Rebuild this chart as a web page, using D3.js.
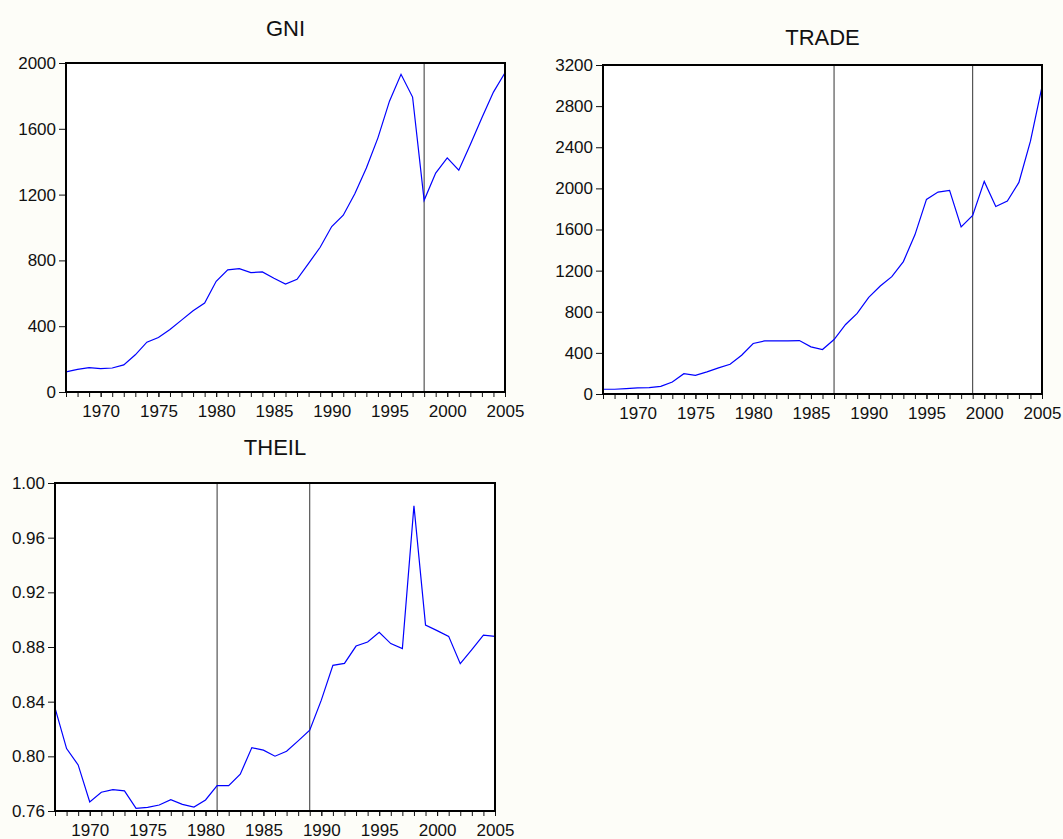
<!DOCTYPE html>
<html>
<head>
<meta charset="utf-8">
<script src="https://cdn.jsdelivr.net/npm/d3@7"></script>
<style>
  html, body { margin: 0; padding: 0; background: #fdfdf8; }
  svg { display: block; }
  text { font-family: "Liberation Sans", Arial, sans-serif; fill: #111; }
</style>
</head>
<body>
<svg id="chart" width="1063" height="839"></svg>
<script>
// ---- Data ----
const years = d3.range(1967, 2006);

const gni = [122, 138, 148, 142, 146, 165, 226, 303, 331, 380,
             437, 494, 541, 673, 742, 750, 726, 730, 691, 656,
             685, 782, 880, 1006, 1075, 1205, 1362, 1545, 1768, 1931,
             1793, 1165, 1331, 1423, 1348, 1504, 1667, 1823, 1941];

const trade = [46, 46, 52, 59, 62, 75, 117, 198, 182, 215,
               254, 289, 377, 491, 517, 517, 517, 520, 459, 433,
               530, 676, 784, 940, 1050, 1141, 1288, 1548, 1893, 1964,
               1980, 1626, 1737, 2068, 1824, 1876, 2058, 2459, 2989];

const theil = [0.8355, 0.8057, 0.7937, 0.7666, 0.7737, 0.7756, 0.7747, 0.7620, 0.7627, 0.7644,
               0.7683, 0.7649, 0.7629, 0.7681, 0.7786, 0.7786, 0.7869, 0.8064, 0.8045, 0.8001,
               0.8037, 0.8113, 0.8191, 0.8411, 0.8666, 0.8680, 0.8807, 0.8837, 0.8908, 0.8825,
               0.8788, 0.9834, 0.8961, 0.8920, 0.8878, 0.8678, 0.8780, 0.8886, 0.8878];

const gniBreaks = [1998];
const tradeBreaks = [1987, 1999];
const theilBreaks = [1981, 1989];

const gniTicks = [0, 400, 800, 1200, 1600, 2000];
const tradeTicks = [0, 400, 800, 1200, 1600, 2000, 2400, 2800, 3200];
const theilTicks = [0.76, 0.80, 0.84, 0.88, 0.92, 0.96, 1.00];
const xLabelYears = [1970, 1975, 1980, 1985, 1990, 1995, 2000, 2005];

// ---- Layout ----
const panels = [
  { title: "GNI",   values: gni,   breaks: gniBreaks,   ticks: gniTicks,   fmt: d3.format("d"),
    left: 66, right: 505, top: 63, bottom: 392, titleY: 36, yDomain: [0, 2000] },
  { title: "TRADE", values: trade, breaks: tradeBreaks, ticks: tradeTicks, fmt: d3.format("d"),
    left: 603, right: 1042, top: 65, bottom: 394, titleY: 45, yDomain: [0, 3200] },
  { title: "THEIL", values: theil, breaks: theilBreaks, ticks: theilTicks, fmt: d3.format(".2f"),
    left: 55, right: 495, top: 483, bottom: 811, titleY: 455, yDomain: [0.76, 1.00] }
];

const svg = d3.select("#chart");

panels.forEach(p => {
  const x = d3.scaleLinear().domain([1967, 2005]).range([p.left, p.right]);
  const y = d3.scaleLinear().domain(p.yDomain).range([p.bottom, p.top]);
  const g = svg.append("g");

  // plot background
  g.append("rect")
    .attr("x", p.left).attr("y", p.top)
    .attr("width", p.right - p.left).attr("height", p.bottom - p.top)
    .attr("fill", "#ffffff");

  // title
  g.append("text")
    .attr("x", (p.left + p.right) / 2).attr("y", p.titleY)
    .attr("text-anchor", "middle")
    .style("font-size", "22px")
    .text(p.title);

  // break lines
  g.selectAll("line.brk").data(p.breaks).enter().append("line")
    .attr("class", "brk")
    .attr("x1", d => x(d)).attr("x2", d => x(d))
    .attr("y1", p.top).attr("y2", p.bottom)
    .attr("stroke", "#333").attr("stroke-width", 1);

  // series line
  const line = d3.line().x((d, i) => x(years[i])).y(d => y(d));
  g.append("path")
    .datum(p.values)
    .attr("d", line)
    .attr("fill", "none")
    .attr("stroke", "#0000ff")
    .attr("stroke-width", 1.2);

  // y axis
  const yAxis = d3.axisLeft(y).tickValues(p.ticks).tickFormat(p.fmt).tickSize(7).tickPadding(3);
  const ya = g.append("g").attr("transform", `translate(${p.left},0)`).call(yAxis);
  ya.select(".domain").remove();
  ya.selectAll("text").style("font-size", "17px").attr("fill", "#111");
  ya.selectAll("line").attr("stroke", "#111");

  // x axis minor ticks (every year)
  const xMinor = d3.axisBottom(x).tickValues(years).tickFormat("").tickSize(5);
  const xm = g.append("g").attr("transform", `translate(0,${p.bottom})`).call(xMinor);
  xm.select(".domain").remove();
  xm.selectAll("line").attr("stroke", "#111");

  // x axis labels
  const xAxis = d3.axisBottom(x).tickValues(xLabelYears).tickFormat(d3.format("d")).tickSize(5).tickPadding(8);
  const xa = g.append("g").attr("transform", `translate(0,${p.bottom})`).call(xAxis);
  xa.select(".domain").remove();
  xa.selectAll("text").style("font-size", "17px").attr("fill", "#111");
  xa.selectAll("line").attr("stroke", "#111");

  // frame
  g.append("rect")
    .attr("x", p.left).attr("y", p.top)
    .attr("width", p.right - p.left).attr("height", p.bottom - p.top)
    .attr("fill", "none").attr("stroke", "#000").attr("stroke-width", 2);
});
</script>
</body>
</html>
